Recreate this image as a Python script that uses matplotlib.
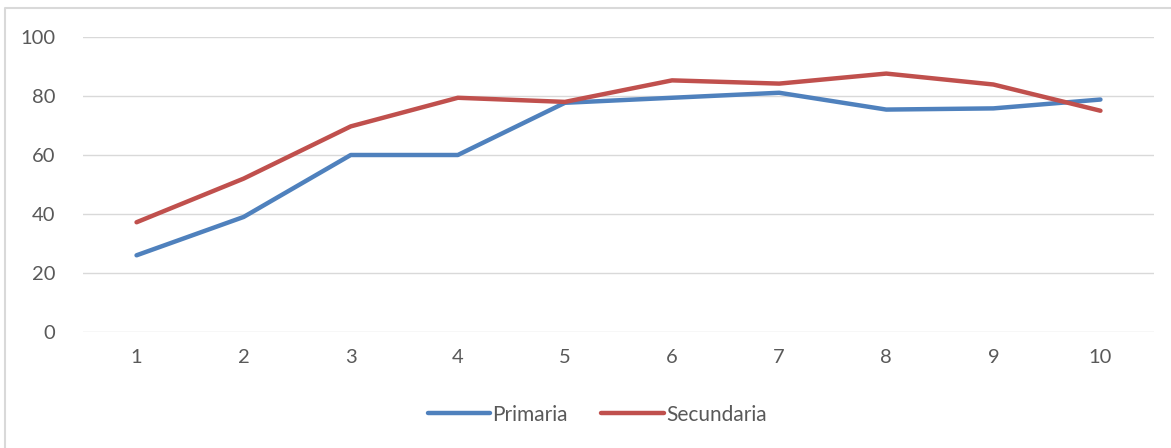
import matplotlib
matplotlib.use('Agg')
import matplotlib.pyplot as plt
from matplotlib.lines import Line2D

# datos
x = [1, 2, 3, 4, 5, 6, 7, 8, 9, 10]
primaria = [26, 39, 60, 60, 77.7, 79.4, 81.1, 75.4, 75.8, 78.8]
secundaria = [37.2, 52, 69.7, 79.4, 78, 85.3, 84.2, 87.6, 83.9, 75]
yticks = [0, 20, 40, 60, 80, 100]

plt.rcParams['font.family'] = ['Lato', 'DejaVu Sans']

W, H = 1171, 448
fig = plt.figure(figsize=(W / 100, H / 100), dpi=100)
ax = fig.add_axes([83 / W, 116 / H, 1071 / W, 295 / H])

# borde del area del grafico (solo arriba e izquierda visibles)
fig.add_artist(Line2D([5 / W, 5 / W, 1], [0, 1 - 8 / H, 1 - 8 / H],
                      transform=fig.transFigure, color='#D9D9D9', lw=1.5))

ax.plot(x, primaria, color='#4F81BD', lw=3.2, label='Primaria', solid_capstyle='round')
ax.plot(x, secundaria, color='#C0504D', lw=3.2, label='Secundaria', solid_capstyle='round')

ax.set_xlim(0.5, 10.5)
ax.set_ylim(0, 100)
ax.set_xticks(x)
ax.set_yticks(yticks)
ax.grid(axis='y', color='#D9D9D9', lw=1)
ax.set_axisbelow(True)
for s in ax.spines.values():
    s.set_visible(False)
ax.tick_params(length=0, colors='#595959', labelsize=14.5)
ax.tick_params(axis='y', pad=20)
ax.tick_params(axis='x', pad=12)

ax.legend(loc='center', bbox_to_anchor=(0.48, -0.28), ncol=2, frameon=False,
          fontsize=15, labelcolor='#595959', handlelength=3.0, handletextpad=0.1,
          columnspacing=1.6)

fig.savefig('out.png', dpi=100)
